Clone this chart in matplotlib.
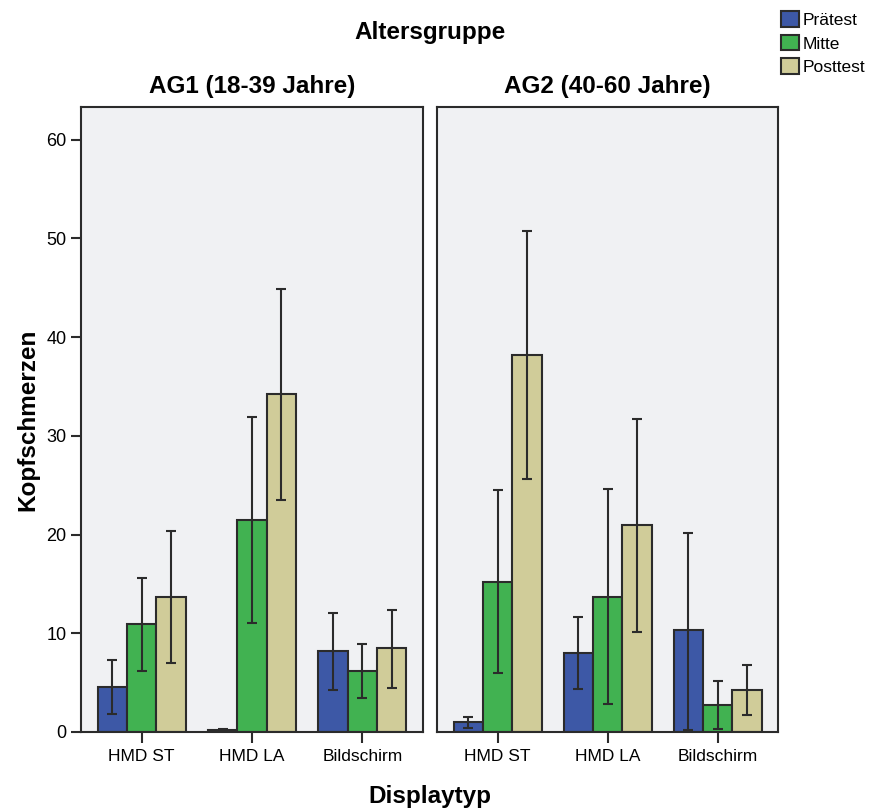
import numpy as np
import matplotlib
matplotlib.use("Agg")
import matplotlib.pyplot as plt
from matplotlib.patches import Patch

plt.rcParams['font.family'] = ['Liberation Sans', 'DejaVu Sans']

categories = ["HMD ST", "HMD LA", "Bildschirm"]
series = ["Prätest", "Mitte", "Posttest"]
colors = ["#3d58a6", "#41b251", "#d0cc99"]
panels = ["AG1 (18-39 Jahre)", "AG2 (40-60 Jahre)"]

# AG1 means and CI bounds per series
ag1_mean = [[4.6, 0.25, 8.2], [10.9, 21.5, 6.2], [13.7, 34.2, 8.5]]
ag1_lo = [[1.8, 0.18, 4.3], [6.2, 11.0, 3.4], [7.0, 23.5, 4.5]]
ag1_hi = [[7.3, 0.32, 12.1], [15.6, 31.9, 8.9], [20.4, 44.9, 12.4]]

# AG2
ag2_mean = [[1.0, 8.0, 10.3], [15.2, 13.7, 2.75], [38.2, 21.0, 4.3]]
ag2_lo = [[0.45, 4.4, 0.2], [6.0, 2.8, 0.35], [25.6, 10.1, 1.7]]
ag2_hi = [[1.55, 11.6, 20.2], [24.5, 24.6, 5.2], [50.7, 31.7, 6.8]]

W, H = 871, 811
fig = plt.figure(figsize=(W / 100, H / 100), dpi=100)
edge = "#2b2b2b"

ax1 = fig.add_axes([81 / W, (H - 732) / H, (423 - 81) / W, (732 - 107) / H])
ax2 = fig.add_axes([437 / W, (H - 732) / H, (778 - 437) / W, (732 - 107) / H])

x = np.arange(len(categories))
bw = 0.8 / 3
data = [(ag1_mean, ag1_lo, ag1_hi), (ag2_mean, ag2_lo, ag2_hi)]

for ax, title, (means, los, his) in zip([ax1, ax2], panels, data):
    ax.set_facecolor("#f0f1f3")
    for i in range(3):
        m = np.array(means[i])
        lo = np.array(los[i])
        hi = np.array(his[i])
        xs = x + (i - 1) * bw
        ax.bar(xs, m, width=bw, color=colors[i], edgecolor=edge, linewidth=1.5, zorder=2)
        ax.errorbar(xs, m, yerr=[m - lo, hi - m], fmt="none", ecolor=edge,
                    elinewidth=1.5, capsize=3.5, capthick=1.5, zorder=3)
    ax.set_xlim(-0.55, 2.55)
    ax.set_ylim(0, 63.3)
    ax.set_xticks(x)
    ax.set_xticklabels(categories, fontsize=12.5)
    for s in ax.spines.values():
        s.set_color(edge)
        s.set_linewidth(1.5)
    ax.tick_params(axis="x", direction="out", length=8, width=1.5, color=edge, pad=4)
    ax.set_title(title, fontsize=17.5, fontweight="bold", pad=10)

ax1.set_yticks([0, 10, 20, 30, 40, 50, 60])
ax1.tick_params(axis="y", direction="out", length=7, width=1.5, color=edge, labelsize=13)
ax2.set_yticks([])

fig.text(430 / W, 1 - 33 / H, "Altersgruppe", ha="center", va="center",
         fontsize=17.5, fontweight="bold")
fig.text(430 / W, 1 - 797 / H, "Displaytyp", ha="center", va="center",
         fontsize=17.5, fontweight="bold")
fig.text(28 / W, 1 - 420 / H, "Kopfschmerzen", ha="center", va="center",
         rotation=90, fontsize=17.5, fontweight="bold")

handles = [Patch(facecolor=c, edgecolor=edge, linewidth=1.5) for c in colors]
fig.legend(handles, series, loc="upper left", bbox_to_anchor=(769 / W, 1 + 1 / H),
           frameon=False, fontsize=12.5, handlelength=1.0, handleheight=1.0,
           handletextpad=0.25, labelspacing=0.4, borderpad=0.2)

fig.savefig("out.png", dpi=100)
